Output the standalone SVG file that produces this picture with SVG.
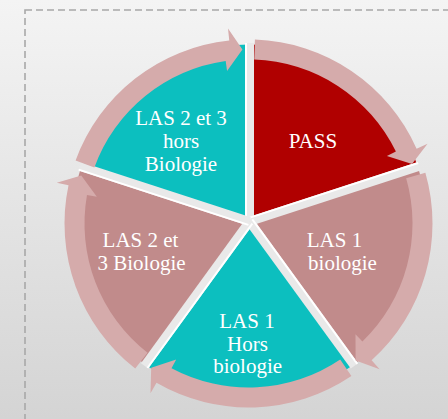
<svg xmlns="http://www.w3.org/2000/svg" width="448" height="419" viewBox="0 0 448 419">
<defs>
  <linearGradient id="bg" x1="0" y1="0" x2="0" y2="1">
    <stop offset="0" stop-color="#f4f4f4"/>
    <stop offset="0.5" stop-color="#e4e4e4"/>
    <stop offset="1" stop-color="#d4d4d4"/>
  </linearGradient>
  <path id="wedge" d="M249.5,221.5 L249.5,44.5 A177,177 0 0 1 417.84,166.8 Z"/>
  <path id="arrow" d="M254.92,39.61 A184,184 0 0 1 416.59,148.66 L427.55,143.78 L412.01,163.99 L386.91,155.99 L395.9,151.61 A164,164 0 0 0 254.22,59.6 Z"/>
  <g id="gap">
    <line x1="249.5" y1="221.5" x2="249.5" y2="43" stroke="#e9e9e9" stroke-width="9"/>
    <line x1="246" y1="221.5" x2="246" y2="43" stroke="#ffffff" stroke-width="2"/>
  </g>
</defs>
<style>
  .lbl { font-family: "Liberation Serif", "Times New Roman", serif; font-size: 21px; fill: #ffffff; text-anchor: middle; }
  .teal { fill: #0cbfbf; }
  .red { fill: #b00000; }
  .pink { fill: #c18b8b; }
  .ring { fill: #d5abab; }
</style>
<rect x="0" y="0" width="448" height="419" fill="url(#bg)"/>
<rect x="25" y="10" width="440" height="420" fill="none" stroke="#a8a8a8" stroke-width="1.6" stroke-dasharray="7 4"/>

<g id="node-pass">
  <use href="#wedge" class="red"/>
  <text class="lbl" x="313" y="147.5">PASS</text>
</g>
<g id="node-las1-bio">
  <use href="#wedge" class="pink" transform="rotate(72 249.5 221.5)"/>
  <text class="lbl" x="334.5" y="246.5">LAS 1</text>
  <text class="lbl" x="342.5" y="269.5">biologie</text>
</g>
<g id="node-las1-hors">
  <use href="#wedge" class="teal" transform="rotate(144 249.5 221.5)"/>
  <text class="lbl" x="247" y="328">LAS 1</text>
  <text class="lbl" x="247.5" y="350.7">Hors</text>
  <text class="lbl" x="247.7" y="373">biologie</text>
</g>
<g id="node-las23-bio">
  <use href="#wedge" class="pink" transform="rotate(216 249.5 221.5)"/>
  <text class="lbl" x="140.5" y="246.5">LAS 2 et</text>
  <text class="lbl" x="141.5" y="269.5">3 Biologie</text>
</g>
<g id="node-las23-hors">
  <use href="#wedge" class="teal" transform="rotate(288 249.5 221.5)"/>
  <text class="lbl" x="181" y="124.5">LAS 2 et 3</text>
  <text class="lbl" x="181" y="147.5">hors</text>
  <text class="lbl" x="181" y="170.5">Biologie</text>
</g>

<g id="gaps">
  <use href="#gap"/>
  <use href="#gap" transform="rotate(72 249.5 221.5)"/>
  <use href="#gap" transform="rotate(144 249.5 221.5)"/>
  <use href="#gap" transform="rotate(216 249.5 221.5)"/>
  <use href="#gap" transform="rotate(288 249.5 221.5)"/>
</g>

<g id="connectors">
  <use href="#arrow" class="ring"/>
  <use href="#arrow" class="ring" transform="rotate(72 248.5 223.5)"/>
  <use href="#arrow" class="ring" transform="rotate(144 248.5 223.5)"/>
  <use href="#arrow" class="ring" transform="rotate(216 248.5 223.5)"/>
  <use href="#arrow" class="ring" transform="rotate(288 248.5 223.5)"/>
</g>
</svg>
